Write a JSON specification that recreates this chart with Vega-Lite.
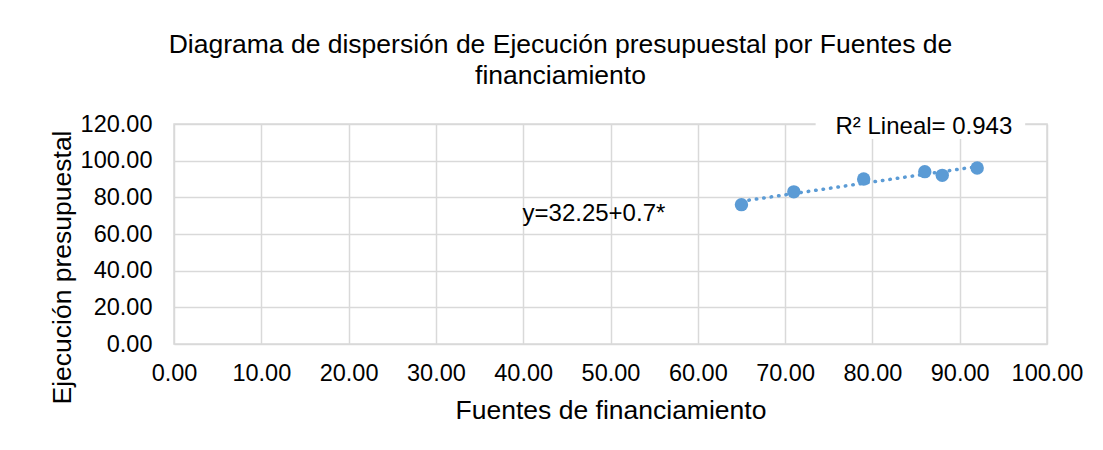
{
  "$schema": "https://vega.github.io/schema/vega-lite/v6.json",
  "autosize": {"type": "none"},
  "width": 873,
  "height": 220,
  "padding": {"left": 174, "top": 124, "right": 56, "bottom": 106},
  "background": "white",
  "config": {
    "font": "Liberation Sans",
    "view": {"stroke": "#d9d9d9", "strokeWidth": 1.5},
    "axis": {
      "labelFont": "Liberation Sans",
      "titleFont": "Liberation Sans",
      "labelFontSize": 23.5,
      "titleFontSize": 26.5,
      "labelColor": "#000000",
      "titleColor": "#000000",
      "titleFontWeight": "normal",
      "gridColor": "#d9d9d9",
      "gridWidth": 1.5,
      "domain": false,
      "ticks": false,
      "labelOverlap": false,
      "format": ".2f",
      "labelFlush": false,
      "titleBaseline": "alphabetic"
    },
    "axisX": {"tickCount": 11, "labelPadding": 17, "titleY": 74},
    "axisY": {"tickCount": 7, "labelPadding": 22, "titleAngle": 270, "titleX": -104, "titleY": 143}
  },
  "title": {
    "text": ["Diagrama de dispersión de Ejecución presupuestal por Fuentes de", "financiamiento"],
    "font": "Liberation Sans",
    "fontSize": 26.5,
    "fontWeight": "normal",
    "color": "#000000",
    "anchor": "middle",
    "frame": "group",
    "dx": -50,
    "offset": 23,
    "lineHeight": 31
  },
  "datasets": {
    "points": [
      {"fuentes": 65, "ejecucion": 76},
      {"fuentes": 71, "ejecucion": 83},
      {"fuentes": 79, "ejecucion": 90},
      {"fuentes": 86, "ejecucion": 94},
      {"fuentes": 88, "ejecucion": 92},
      {"fuentes": 92, "ejecucion": 96}
    ],
    "notes": [
      {"label": "R² Lineal= 0.943", "kind": "r2"},
      {"label": "y=32.25+0.7*", "kind": "eq"}
    ]
  },
  "layer": [
    {
      "data": {"name": "points"},
      "transform": [{"regression": "ejecucion", "on": "fuentes", "method": "linear"}],
      "mark": {"type": "line", "color": "#5b9bd5", "strokeWidth": 3.5, "strokeDash": [0.5, 7], "strokeCap": "round"},
      "encoding": {
        "x": {
          "field": "fuentes",
          "type": "quantitative",
          "scale": {"domain": [0, 100], "nice": false, "zero": false},
          "axis": {"title": "Fuentes de financiamiento", "values": [0, 10, 20, 30, 40, 50, 60, 70, 80, 90, 100]}
        },
        "y": {
          "field": "ejecucion",
          "type": "quantitative",
          "scale": {"domain": [0, 120], "nice": false, "zero": false},
          "axis": {"title": "Ejecución presupuestal", "values": [0, 20, 40, 60, 80, 100, 120]}
        }
      }
    },
    {
      "data": {"name": "points"},
      "mark": {"type": "circle", "color": "#5b9bd5", "opacity": 1, "size": 180},
      "encoding": {
        "x": {"field": "fuentes", "type": "quantitative", "axis": {"title": "Fuentes de financiamiento", "values": [0, 10, 20, 30, 40, 50, 60, 70, 80, 90, 100]}},
        "y": {"field": "ejecucion", "type": "quantitative", "axis": {"title": "Ejecución presupuestal", "values": [0, 20, 40, 60, 80, 100, 120]}}
      }
    },
    {
      "data": {"name": "notes"},
      "transform": [{"filter": "datum.kind == 'r2'"}],
      "mark": {"type": "rect", "color": "white"},
      "encoding": {
        "x": {"datum": 73.5, "type": "quantitative", "axis": {"title": "Fuentes de financiamiento", "values": [0, 10, 20, 30, 40, 50, 60, 70, 80, 90, 100]}},
        "x2": {"datum": 97.5},
        "y": {"datum": 111.8, "type": "quantitative", "axis": {"title": "Ejecución presupuestal", "values": [0, 20, 40, 60, 80, 100, 120]}},
        "y2": {"datum": 121}
      }
    },
    {
      "data": {"name": "notes"},
      "transform": [{"filter": "datum.kind == 'r2'"}],
      "mark": {"type": "text", "fontSize": 24, "font": "Liberation Sans", "color": "#000000", "align": "center", "baseline": "alphabetic"},
      "encoding": {
        "text": {"field": "label", "type": "nominal"},
        "x": {"datum": 85.9, "type": "quantitative", "axis": {"title": "Fuentes de financiamiento", "values": [0, 10, 20, 30, 40, 50, 60, 70, 80, 90, 100]}},
        "y": {"datum": 114.6, "type": "quantitative", "axis": {"title": "Ejecución presupuestal", "values": [0, 20, 40, 60, 80, 100, 120]}}
      }
    },
    {
      "data": {"name": "notes"},
      "transform": [{"filter": "datum.kind == 'eq'"}],
      "mark": {"type": "text", "fontSize": 24, "font": "Liberation Sans", "color": "#000000", "align": "center", "baseline": "alphabetic"},
      "encoding": {
        "text": {"field": "label", "type": "nominal"},
        "x": {"datum": 48.1, "type": "quantitative", "axis": {"title": "Fuentes de financiamiento", "values": [0, 10, 20, 30, 40, 50, 60, 70, 80, 90, 100]}},
        "y": {"datum": 67.1, "type": "quantitative", "axis": {"title": "Ejecución presupuestal", "values": [0, 20, 40, 60, 80, 100, 120]}}
      }
    }
  ]
}
